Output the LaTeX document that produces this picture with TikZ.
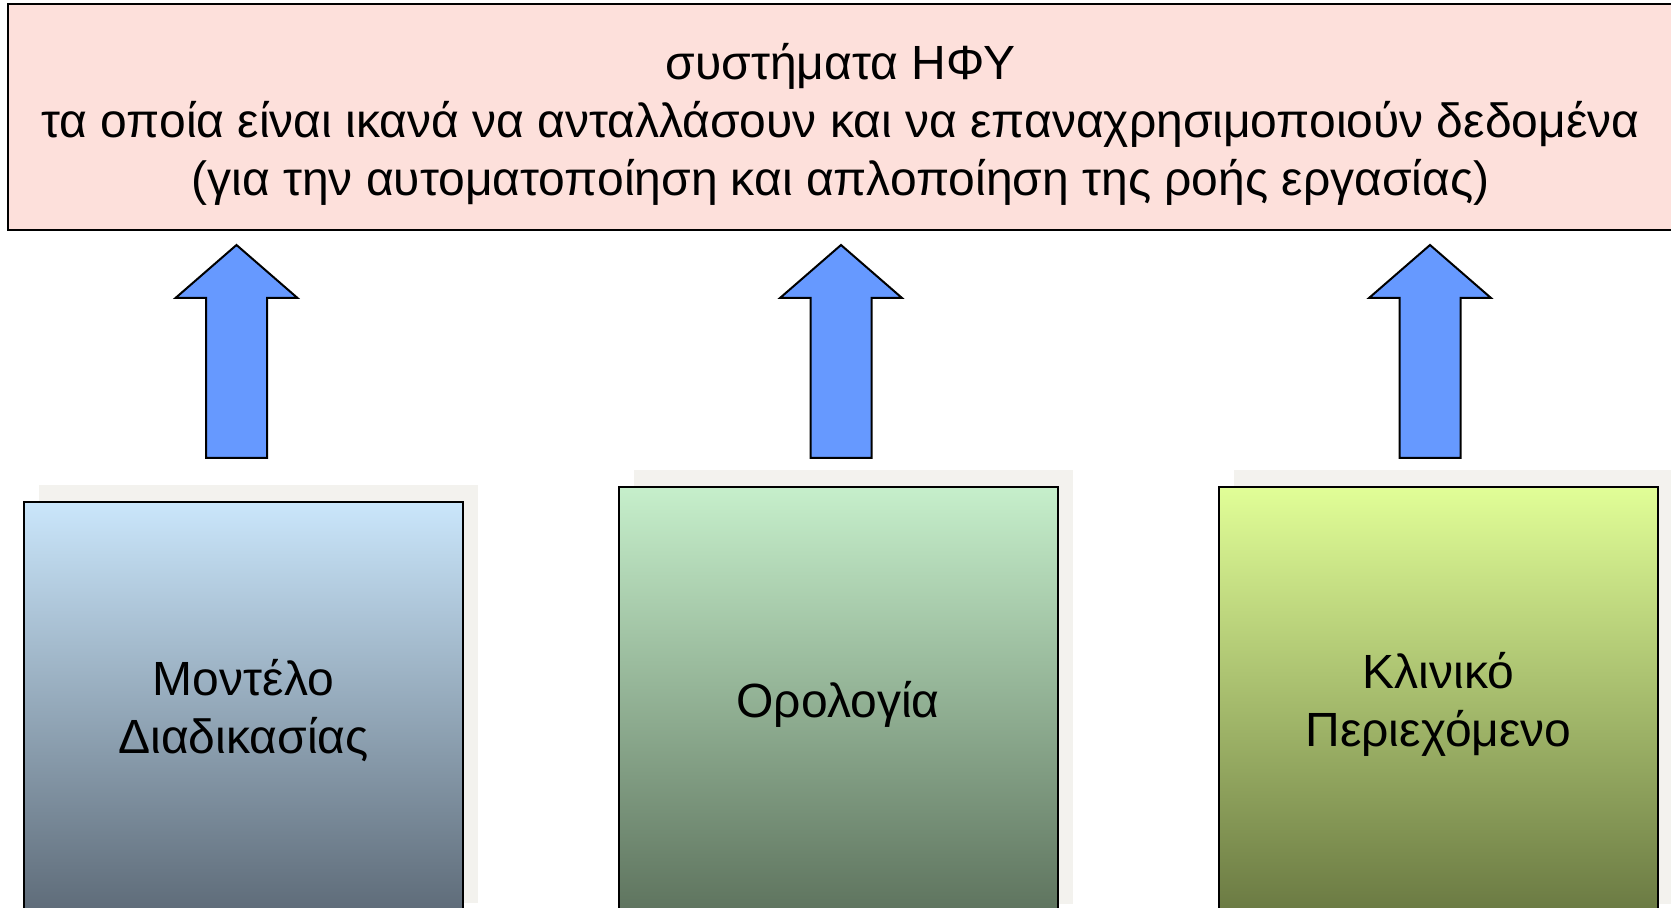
\documentclass[tikz,border=0pt]{standalone}
\usepackage{fontspec}
\setmainfont{Liberation Sans}
\usetikzlibrary{positioning,shadows}

\definecolor{ehrpink}{HTML}{FDE0DB}
\definecolor{arrowblue}{HTML}{6699FF}
\definecolor{shadowgrey}{HTML}{F3F2EE}
\definecolor{modeltop}{HTML}{CAE6FB}
\definecolor{modelmid}{HTML}{A6BCD0}
\definecolor{modelbot}{HTML}{5C6976}
\definecolor{termtop}{HTML}{C6EFCB}
\definecolor{termmid}{HTML}{A8CDAA}
\definecolor{termbot}{HTML}{5C715C}
\definecolor{clintop}{HTML}{E1FE97}
\definecolor{clinmid}{HTML}{C0D681}
\definecolor{clinbot}{HTML}{687741}

\begin{document}
\begin{tikzpicture}[x=0.5pt,y=-0.5pt,
  every node/.style={inner sep=0,outer sep=0},
  bigfont/.style={font=\fontsize{24}{29}\selectfont},
  block/.style={draw,line width=1pt,minimum width=219.5pt,minimum height=217pt,
    align=center,bigfont,
    drop shadow={shadow xshift=7.5pt,shadow yshift=8.5pt,fill=shadowgrey,opacity=1}},
  uparrow/.style={draw,line width=1pt,fill=arrowblue,line join=miter}]
  \useasboundingbox (0,0) rectangle (1671,908);

  %% Top box.
  \node[draw,line width=1pt,fill=ehrpink,minimum width=832.5pt,minimum height=113pt] (ehr) at (840.5,117) {};
  \node[align=center,bigfont] (ehrtext) at (840.5,124)
    {συστήματα ΗΦΥ\\τα οποία είναι ικανά να ανταλλάσουν και να επαναχρησιμοποιούν δεδομένα\\(για την αυτοματοποίηση και απλοποίηση της ροής εργασίας)};

  %% Bottom boxes.
  \node[block,minimum height=209pt,top color=modeltop,middle color=modelmid,bottom color=modelbot] (model) at (243.5,711) {Μοντέλο\\Διαδικασίας};
  \node[block,top color=termtop,middle color=termmid,bottom color=termbot] (term) at (838,704) {Ορολογία};
  \node[block,top color=clintop,middle color=clinmid,bottom color=clinbot] (clin) at (1438.5,704) {Κλινικό\\Περιεχόμενο};

  %% Block arrows.
  \draw[uparrow] (236.5,245) -- ++(61,53) -- ++(-30.5,0) -- ++(0,160) -- ++(-61,0) -- ++(0,-160) -- ++(-30.5,0) -- cycle;
  \draw[uparrow] (841,245) -- ++(61,53) -- ++(-30.5,0) -- ++(0,160) -- ++(-61,0) -- ++(0,-160) -- ++(-30.5,0) -- cycle;
  \draw[uparrow] (1430,245) -- ++(61,53) -- ++(-30.5,0) -- ++(0,160) -- ++(-61,0) -- ++(0,-160) -- ++(-30.5,0) -- cycle;
\end{tikzpicture}
\end{document}
